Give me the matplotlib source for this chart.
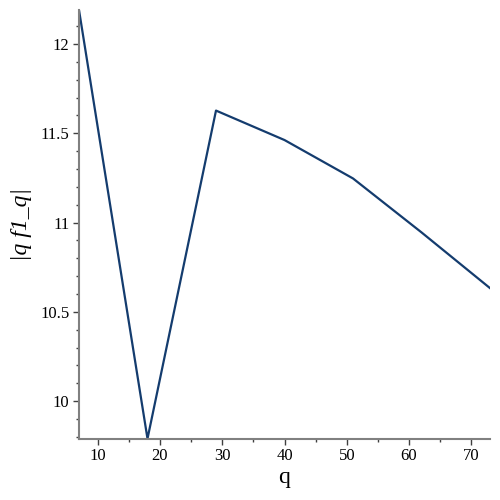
import matplotlib
matplotlib.use('Agg')
import matplotlib.pyplot as plt
from matplotlib.ticker import MultipleLocator

q = [7, 18, 29, 40, 51, 62, 73]
qf1q = [12.19, 9.79, 11.627, 11.462, 11.247, 10.945, 10.633]

plt.rcParams['font.family'] = ['Liberation Serif', 'DejaVu Serif']

fig = plt.figure(figsize=(5, 5), dpi=100)
ax = fig.add_axes([0.158, 0.1226, 0.822, 0.8574])

ax.plot(q, qf1q, color='#143c6e', linewidth=1.6, clip_on=True)

ax.set_xlim(min(q), max(q))
ax.set_ylim(min(qf1q), max(qf1q))

ax.xaxis.set_major_locator(MultipleLocator(10))
ax.xaxis.set_minor_locator(MultipleLocator(5))
ax.yaxis.set_major_locator(MultipleLocator(0.5))
ax.yaxis.set_minor_locator(MultipleLocator(0.1))
ax.yaxis.set_major_formatter(plt.FuncFormatter(lambda v, p: ('%g' % v)))

for s in ['top', 'right']:
    ax.spines[s].set_visible(False)
for s in ['left', 'bottom']:
    ax.spines[s].set_color('#808080')
    ax.spines[s].set_linewidth(1.5)

ax.tick_params(which='major', length=4, width=1, color='#404040', labelsize=12, pad=3)
ax.tick_params(which='minor', length=2.5, width=1, color='#404040')

ax.set_xlabel('q', fontsize=17, labelpad=2)
ax.set_ylabel('|q f1_q|', fontsize=17, style='italic', labelpad=6)

fig.savefig('out.png', dpi=100)
